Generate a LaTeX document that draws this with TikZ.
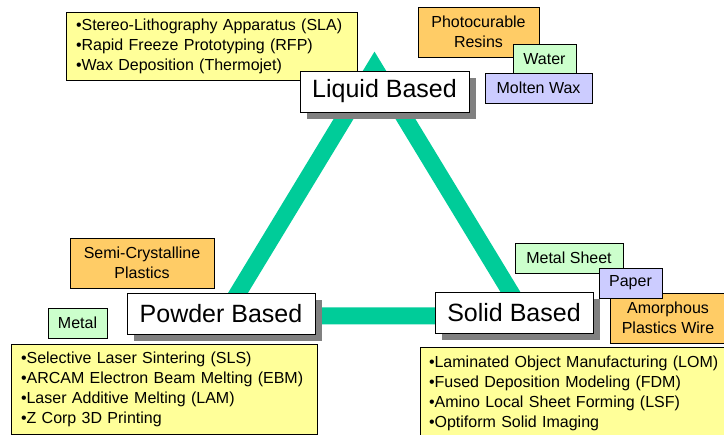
\documentclass[tikz,border=0pt]{standalone}
\usepackage{fontspec}
\setmainfont{Liberation Sans}
\usetikzlibrary{positioning, shadows}

\definecolor{techyellow}{HTML}{FFFF99}
\definecolor{matorange}{HTML}{FFCC66}
\definecolor{matgreen}{HTML}{CCFFCC}
\definecolor{matblue}{HTML}{CCCCFF}
\definecolor{trigreen}{HTML}{00CC99}
\definecolor{shadowgray}{HTML}{808080}

\begin{document}
\begin{tikzpicture}[
        x=1pt, y=-1pt,
        base/.style={rectangle, draw=black, fill=white, line width=0.9pt, inner sep=0pt,
                     minimum height=41pt, font=\fontsize{25}{28}\selectfont,
                     drop shadow={shadow xshift=7pt, shadow yshift=-7pt, fill=shadowgray, opacity=1}},
        mat/.style={rectangle, draw=black, line width=0.8pt, inner sep=0pt, align=center,
                    font=\fontsize{16}{20}\selectfont},
        tech/.style={rectangle, draw=black, fill=techyellow, line width=0.8pt, inner xsep=10pt,
                     inner ysep=0pt, align=left, font=\fontsize{16}{20}\selectfont}
    ]

        \useasboundingbox (0,0) rectangle (724,435);
        \clip (0,0) rectangle (724,435);

        % --- TRIANGLE ---
        \coordinate (apex) at (374.5, 68);
        \coordinate (left_corner) at (224, 316);
        \coordinate (right_corner) at (525, 316);
        \draw[trigreen, line width=17pt, line join=miter] (apex) -- (right_corner) -- (left_corner) -- cycle;

        % --- LIQUID ---
        \node[tech, minimum width=291pt, minimum height=68pt, text width=271pt] (liq_tech) at (211.5, 46)
            {\textbullet Stereo-Lithography Apparatus (SLA)\\\textbullet Rapid Freeze Prototyping (RFP)\\\textbullet Wax Deposition (Thermojet)};
        \node[mat, fill=matorange, minimum width=121pt, minimum height=50pt] (resins) at (478.5, 32) {Photocurable\\Resins};
        \node[mat, fill=matgreen, minimum width=63pt, minimum height=30pt] (water) at (544.5, 59) {Water};
        \node[mat, fill=matblue, minimum width=107pt, minimum height=30pt] (wax) at (538.5, 88) {Molten Wax};
        \node[base, minimum width=169pt] (liquid) at (384.5, 91.5) {Liquid Based};

        % --- POWDER ---
        \node[mat, fill=matorange, minimum width=144pt, minimum height=50pt] (semicryst) at (142, 263) {Semi-Crystalline\\Plastics};
        \node[mat, fill=matgreen, minimum width=59pt, minimum height=30pt] (metal) at (77.5, 323) {Metal};
        \node[base, minimum width=188pt] (powder) at (221, 313.5) {Powder Based};
        \node[tech, minimum width=306pt, minimum height=90pt, text width=286pt] (pow_tech) at (164, 389)
            {\textbullet Selective Laser Sintering (SLS)\\\textbullet ARCAM Electron Beam Melting (EBM)\\\textbullet Laser Additive Melting (LAM)\\\textbullet Z Corp 3D Printing};

        % --- SOLID ---
        \node[mat, fill=matorange, minimum width=116pt, minimum height=50pt] (amorph) at (668, 318) {Amorphous\\Plastics Wire};
        \node[mat, fill=matgreen, minimum width=108pt, minimum height=30pt] (sheet) at (569, 258) {Metal Sheet};
        \node[mat, fill=matblue, minimum width=63pt, minimum height=30pt] (paper) at (630.5, 283) {Paper};
        \node[base, minimum width=158pt] (solid) at (514, 312.5) {Solid Based};
        \node[tech, inner xsep=9pt, minimum width=340pt, minimum height=92pt, text width=322pt] (sol_tech) at (590, 393)
            {\textbullet Laminated Object Manufacturing (LOM)\\\textbullet Fused Deposition Modeling (FDM)\\\textbullet Amino Local Sheet Forming (LSF)\\\textbullet Optiform Solid Imaging};

    \end{tikzpicture}
\end{document}
